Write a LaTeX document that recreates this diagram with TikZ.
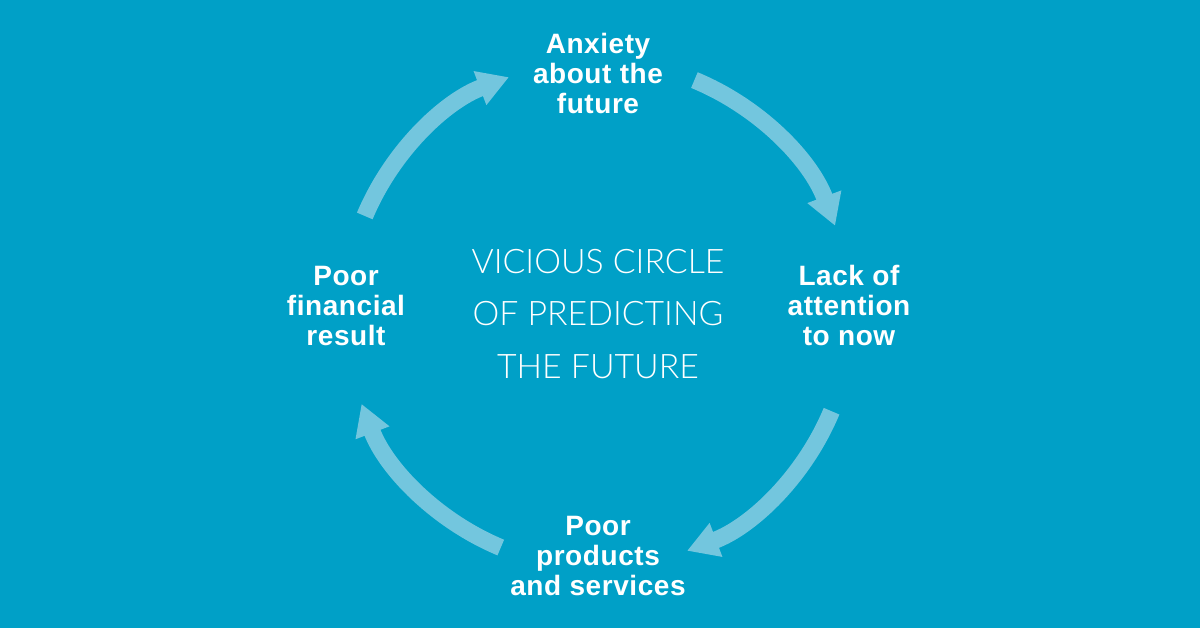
\documentclass[tikz,border=0pt]{standalone}
\usepackage{fontspec}
\setmainfont{Liberation Sans}
\newfontfamily\boldf{Liberation Sans}[LetterSpace=2]
\newfontfamily\lightf{Lato}[UprightFont={* Light}]
\usetikzlibrary{arrows.meta,calc}
\definecolor{bg}{RGB}{0,160,199}
\definecolor{arrowc}{RGB}{115,198,222}
\tikzset{
  arr/.style={draw=arrowc, line width=17pt, line cap=butt,
    -{Triangle[length=31pt,width=34pt,fill=arrowc]}},
  lbl/.style={text=white, align=center, inner sep=0pt,
    font=\boldf\fontsize{28}{30}\selectfont\bfseries},
  ctr/.style={text=white, align=center, inner sep=0pt,
    font=\lightf\fontsize{33.8}{52.5}\selectfont}
}
\begin{document}
\begin{tikzpicture}[x=1pt,y=1pt]
\fill[bg] (0,0) rectangle (1200,628);
\useasboundingbox (0,0) rectangle (1200,628);
\coordinate (c) at (598,314);
\node[ctr] (center) at (598,314) {VICIOUS CIRCLE\\OF PREDICTING\\THE FUTURE};
\node[lbl] (anx) at (598,554) {Anxiety\\about the\\future};
\node[lbl] (lack) at (849,322) {Lack of\\attention\\to now};
\node[lbl] (prod) at (598,72) {Poor\\products\\and services};
\node[lbl] (fin) at (346,322) {Poor\\financial\\result};
\draw[arr] ($(c)+(67.6:253)$) arc[start angle=67.6, end angle=20.4, radius=253];
\draw[arr] ($(c)+(-22.6:253)$) arc[start angle=-22.6, end angle=-69.4, radius=253];
\draw[arr] ($(c)+(-112.6:253)$) arc[start angle=-112.6, end angle=-159.2, radius=253];
\draw[arr] ($(c)+(157.2:253)$) arc[start angle=157.2, end angle=110.6, radius=253];
\end{tikzpicture}
\end{document}
